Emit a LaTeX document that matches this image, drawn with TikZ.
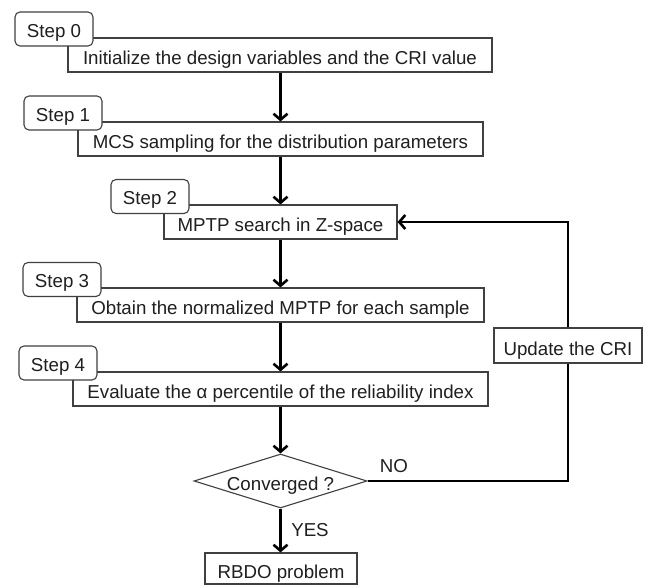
\documentclass[tikz,border=0pt]{standalone}
\usepackage{fontspec}
\setmainfont{Liberation Sans}
\usetikzlibrary{shapes.geometric,arrows.meta}
\begin{document}
\begin{tikzpicture}[x=1pt,y=-1pt,
  font=\fontsize{18.7pt}{22pt}\selectfont,
  txt/.style={text=black!88},
  mainbox/.style={draw=black!75,line width=1.1pt,fill=white,minimum height=34pt,inner sep=0pt,text height=20pt,text depth=0pt,txt},
  stepbox/.style={draw=black!75,line width=1.1pt,fill=white,rounded corners=5pt,minimum width=78pt,minimum height=34pt,inner sep=0pt,text height=17pt,text depth=0pt,txt},
  decide/.style={diamond,aspect=3.2,draw=black!75,line width=1.1pt,fill=white,minimum width=173pt,minimum height=54pt,inner sep=0pt,text height=20pt,text depth=0pt,txt},
  flow/.style={line width=2.6pt,-{Straight Barb[length=6pt,width=14pt]}},
  plainline/.style={line width=2.6pt},
  lbl/.style={txt,inner sep=0pt}]
\useasboundingbox (0,0) rectangle (646,585);
% main boxes
\node[mainbox,minimum width=424pt] (b0) at (280,55) {Initialize the design variables and the CRI value};
\node[mainbox,minimum width=405pt] (b1) at (280.5,139) {MCS sampling for the distribution parameters};
\node[mainbox,minimum width=233pt] (b2) at (280.5,222) {MPTP search in Z-space};
\node[mainbox,minimum width=407pt] (b3) at (280.5,305) {Obtain the normalized MPTP for each sample};
\node[mainbox,minimum width=415pt] (b4) at (280.5,389) {Evaluate the α percentile of the reliability index};
\node[decide] (d) at (280.5,481) {Converged ?};
\node[mainbox,minimum width=152pt,minimum height=31pt] (r) at (281,568.5) {RBDO problem};
\node[mainbox,minimum width=148pt,minimum height=35pt] (u) at (568,345.5) {Update the CRI};
% step labels
\node[stepbox] (s0) at (54,29) {Step 0};
\node[stepbox] (s1) at (63,113) {Step 1};
\node[stepbox] (s2) at (150,196.5) {Step 2};
\node[stepbox] (s3) at (62,279.5) {Step 3};
\node[stepbox] (s4) at (58,363) {Step 4};
% connectors
\draw[flow] (b0.south -| d.north) -- (b1.north -| d.north);
\draw[flow] (b1.south -| d.north) -- (b2.north -| d.north);
\draw[flow] (b2.south -| d.north) -- (b3.north -| d.north);
\draw[flow] (b3.south -| d.north) -- (b4.north -| d.north);
\draw[flow] (b4.south -| d.north) -- (d.north);
\draw[flow] (d.south) -- (r.north -| d.south);
\draw[plainline] (d.east) -| (u.south);
\draw[flow] (u.north) |- (b2.east);
% labels
\node[lbl] (no) at (394,466) {NO};
\node[lbl] (yes) at (310,530) {YES};
\end{tikzpicture}
\end{document}
